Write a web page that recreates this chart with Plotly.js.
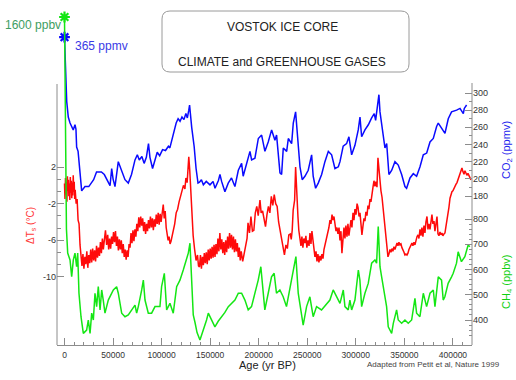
<!DOCTYPE html>
<html>
<head>
<meta charset="utf-8">
<script src="https://cdn.plot.ly/plotly-3.0.1.min.js"></script>
<style>
  html, body { margin: 0; padding: 0; background: #fff; }
  #chart { width: 516px; height: 380px; }
</style>
</head>
<body>
<div id="chart"></div>
<script>
// Vostok ice core records: age (yr BP) paired with each measured quantity.
const co2Record = [
  [0,365],[800,330],[2300,290],[3900,272],[5700,265],[9000,257],[10800,263],[11800,258],[12500,237],[14000,232],
  [16000,202],[17700,186],[21100,191],[25000,191],[30000,199],[33000,208],[38000,208],[41000,205],[46900,192],[48600,212],
  [50000,200],[52000,191],[55400,220],[58000,212],[62300,199],[65700,195],[69000,205],[72600,222],[75000,228],[77000,222],
  [79700,226],[82000,218],[84300,225],[86500,241],[88000,225],[90700,212],[93500,225],[95500,231],[98000,227],[101000,234],
  [104000,233],[107000,238],[108500,236],[112000,253],[115000,265],[117000,270],[119000,267],[121000,272],[123000,269],[125000,276],
  [126500,271],[128000,280],[128800,286],[131000,260],[133500,238],[135500,212],[137500,195],[139000,196],[141000,199],[143000,193],
  [146000,197],[149800,193],[153000,197],[155000,189],[158500,198],[160100,205],[161800,197],[165200,185],[168600,195],[172000,201],
  [175500,191],[179000,210],[182400,218],[184000,203],[187500,218],[191000,232],[192700,222],[196100,224],[199600,247],[203000,251],
  [206400,232],[209800,243],[213300,257],[216700,245],[218400,251],[221900,207],[223600,205],[225300,236],[228800,232],[230500,247],
  [233900,241],[235600,265],[238000,278],[240700,234],[242500,214],[244800,199],[247600,203],[251000,210],[254500,228],[256100,203],
  [258600,189],[261300,195],[264800,205],[268200,220],[271700,232],[275100,228],[278500,212],[282000,214],[283700,220],[287000,238],
  [290500,241],[292900,249],[295700,228],[299100,239],[302500,257],[304300,272],[306000,249],[309400,257],[312900,263],[316300,271],
  [319000,276],[320400,268],[322500,286],[323800,298],[324900,278],[328300,247],[330000,236],[331800,241],[334100,205],[337000,210],
  [340300,220],[343700,216],[347200,205],[350600,191],[352300,189],[355800,201],[359200,206],[362600,203],[366100,214],[369500,228],
  [373000,230],[376400,243],[379800,247],[383200,261],[384900,265],[388300,259],[391800,253],[395200,270],[398600,278],[403800,280],
  [407300,282],[410700,276],[411700,282],[414100,286]
];

const tempRecord = [
  [0,0.2],[500,-1.5],[1000,0.8],[1500,-1.0],[2000,0.4],[2500,-1.8],[3000,1.0],[3500,-0.6],[4000,0.6],[4500,-1.2],
  [5000,0.2],[5500,-1.6],[6000,0.9],[6500,-0.8],[7000,0.5],[7500,-1.4],[8000,0.3],[8500,-1.1],[9000,1.1],[9500,-0.7],
  [10000,0.4],[10500,-1.5],[11000,-0.5],[12000,-2.0],[13000,-1.5],[14000,-3.8],[15000,-4.2],[16000,-6.5],[17000,-7.8],
  [18000,-8.8],[19000,-7.5],[20000,-9.1],[21000,-7.8],[22000,-8.6],[23000,-7.2],[24000,-9.0],[25000,-7.6],[26000,-8.5],[27000,-7.0],
  [28000,-8.4],[29000,-6.9],[30000,-8.2],[31000,-7.1],[32000,-8.3],[33000,-6.6],[34000,-7.9],[35000,-6.8],[36000,-7.7],[37000,-6.2],
  [38000,-7.4],[39000,-5.8],[40000,-7.0],[41000,-6.0],[42200,-4.9],[43400,-6.5],[44500,-5.4],[45500,-7.0],[46500,-5.8],[47500,-6.9],
  [48500,-5.6],[49500,-6.4],[50500,-5.1],[51500,-6.2],[52500,-5.0],[53500,-6.6],[54500,-5.6],[55500,-7.1],[56500,-5.9],[57500,-7.0],
  [58500,-6.0],[59500,-7.4],[60500,-6.4],[61500,-7.8],[62500,-7.0],[63500,-8.1],[64500,-7.1],[65500,-7.8],[66500,-6.4],[67500,-6.8],
  [68500,-5.2],[69500,-6.3],[70500,-4.9],[71500,-6.1],[72500,-4.8],[73500,-5.6],[74500,-4.2],[75500,-5.0],[76500,-3.5],[77500,-4.6],
  [78500,-3.4],[79500,-4.4],[80500,-3.6],[81500,-5.0],[82500,-4.0],[83500,-5.3],[84500,-4.2],[85500,-5.0],[86500,-3.8],[87500,-4.7],
  [88500,-3.4],[89500,-4.6],[90500,-3.6],[91500,-4.9],[92500,-3.7],[93500,-4.5],[94500,-3.2],[95500,-4.2],[96500,-3.0],[97500,-4.3],
  [98500,-3.1],[99500,-4.0],[100500,-2.8],[101700,-2.1],[102700,-3.6],[103700,-2.8],[104700,-4.6],[105700,-5.4],[106700,-6.0],[107700,-5.6],
  [108700,-6.4],[109700,-6.1],[110700,-5.6],[112000,-4.9],[113500,-4.2],[115000,-3.0],[116500,-2.6],[118000,-1.8],[119500,-1.2],[121000,-0.5],
  [122500,0.0],[124000,-0.4],[125000,0.8],[126300,0.3],[128000,3.1],[129000,1.6],[130000,-0.8],[131200,-3.2],[132500,-5.5],[134000,-7.0],
  [135500,-8.2],[137000,-7.6],[138000,-8.8],[139000,-8.9],[140000,-7.6],[141000,-9.1],[142000,-7.8],[143000,-8.7],[144000,-7.4],[145000,-8.5],
  [146000,-7.3],[147000,-8.6],[148000,-7.0],[149000,-8.2],[150000,-6.9],[151000,-8.0],[152000,-6.7],[153000,-7.9],[154000,-6.5],[155000,-7.8],
  [156000,-6.4],[157000,-7.5],[158000,-5.8],[159000,-7.2],[160000,-5.2],[161000,-7.0],[162000,-5.9],[163000,-7.4],[164000,-6.2],[165000,-7.6],
  [166000,-6.0],[167000,-7.3],[168000,-5.6],[169000,-6.9],[170000,-5.2],[171000,-6.8],[172000,-5.4],[173000,-7.0],[174000,-5.6],[175000,-7.3],
  [176000,-5.9],[177000,-7.2],[178000,-6.3],[179000,-7.8],[180000,-6.8],[181000,-8.2],[182000,-7.2],[183500,-8.3],[185000,-7.4],[186500,-6.6],
  [188000,-5.8],[189000,-4.1],[190500,-5.2],[192000,-3.4],[193500,-5.0],[195000,-4.9],[196500,-3.0],[198000,-2.3],[199500,-3.3],[201300,-1.6],
  [202500,-3.0],[204000,-2.8],[205500,-3.9],[207000,-4.5],[208500,-3.2],[210000,-2.3],[211500,-3.0],[213000,-1.2],[214500,-2.2],[216000,-1.0],
  [217500,-2.0],[219000,-2.3],[220500,-4.0],[222000,-4.9],[223500,-5.8],[225000,-6.7],[226500,-7.6],[228000,-6.5],[229500,-6.9],[231000,-5.4],
  [232500,-5.3],[233500,-5.9],[234500,-4.9],[235500,-2.7],[237000,-1.6],[238000,2.0],[239200,-1.4],[240400,-3.4],[241300,-4.9],[242500,-5.6],
  [243500,-6.6],[244500,-5.6],[245500,-6.8],[246500,-5.8],[247600,-6.3],[248600,-5.5],[249600,-6.8],[250700,-6.0],[251800,-6.6],[252800,-5.2],
  [253800,-6.4],[254800,-5.0],[255900,-6.2],[256900,-7.0],[257900,-7.8],[259000,-7.2],[260000,-8.3],[261000,-7.5],[262000,-8.4],[263100,-7.7],
  [264100,-8.2],[265100,-7.5],[266200,-8.0],[267200,-7.0],[268200,-6.5],[269300,-6.2],[270300,-5.8],[271300,-5.0],[272300,-4.6],[273400,-3.8],
  [274400,-4.2],[275500,-3.2],[276500,-3.8],[277500,-3.4],[278500,-4.4],[279600,-5.0],[280600,-4.6],[281600,-5.3],[282700,-4.6],[283700,-6.0],
  [284700,-5.0],[285700,-7.4],[286700,-6.0],[287800,-4.6],[288800,-5.8],[289800,-4.4],[290900,-5.6],[291900,-4.2],[292900,-5.5],[294000,-4.5],
  [295000,-3.8],[296000,-4.6],[297100,-3.0],[298100,-3.8],[299100,-2.6],[300200,-3.2],[301300,-2.0],[302300,-2.4],[303300,-3.4],[304300,-3.0],
  [305300,-4.6],[306300,-5.4],[307300,-4.5],[308400,-3.6],[309400,-3.9],[310400,-2.9],[311500,-3.3],[312500,-2.2],[313500,-2.6],[314600,-1.5],
  [315600,-1.8],[316600,-0.8],[317700,-0.2],[318700,0.5],[319700,-0.1],[320700,0.4],[321800,-0.2],[322800,3.0],[323800,1.6],[324900,0.0],
  [325900,-0.6],[327000,-1.3],[328000,-2.5],[329000,-3.4],[330000,-4.2],[331000,-5.5],[332100,-6.6],[333100,-7.8],[334100,-7.5],[335200,-7.0],
  [336200,-7.3],[337200,-6.9],[338200,-7.2],[339300,-6.7],[340300,-7.0],[341300,-6.5],[342400,-6.3],[343400,-6.6],[344400,-6.2],[345500,-6.5],
  [346500,-6.4],[347500,-6.8],[348500,-7.0],[349600,-7.3],[350600,-7.6],[351600,-7.5],[352700,-7.6],[353700,-7.4],[354700,-7.0],[355800,-6.7],
  [356800,-6.5],[357800,-6.3],[358800,-6.6],[359900,-6.2],[360900,-6.5],[361900,-6.0],[363000,-5.6],[364000,-5.4],[365000,-5.8],[366100,-4.8],
  [367100,-5.5],[368100,-4.6],[369100,-5.6],[370200,-4.4],[371200,-5.2],[372200,-4.0],[373300,-3.4],[374300,-4.8],[375300,-4.2],[376400,-4.8],
  [377400,-3.5],[378400,-3.2],[379400,-4.2],[380500,-3.9],[381500,-5.0],[382500,-4.0],[383600,-3.4],[384600,-5.3],[385600,-5.5],[386700,-5.1],
  [387700,-5.4],[388700,-5.2],[389700,-5.5],[390800,-5.3],[391800,-5.2],[392800,-4.5],[393900,-3.8],[394900,-3.4],[395900,-2.4],[397000,-1.4],
  [398000,-1.0],[399000,-0.7],[400000,-0.6],[401100,-0.3],[402100,-0.2],[403100,0.1],[404200,0.3],[405200,0.6],[406200,0.9],[407300,1.3],
  [408300,1.6],[409300,1.9],[410300,1.5],[411400,1.2],[412400,1.6],[413400,1.4],[414400,1.1],[415500,1.3],[416500,1.0],[417500,0.8],
  [418600,0.6]
];

const ch4Record = [
  [0,1600],[2000,760],[3300,665],[5700,638],[7400,572],[9100,638],[10800,665],[12500,611],[13600,665],[14900,506],
  [17000,413],[19400,347],[22800,360],[24500,400],[26300,347],[28000,427],[29700,400],[31400,506],[33100,453],[34800,532],
  [36600,440],[38300,519],[39900,479],[41700,427],[45100,479],[50300,519],[53700,532],[55400,506],[58900,427],[62300,413],
  [65700,420],[69200,440],[72600,459],[74300,427],[76000,453],[79500,519],[81200,558],[82900,479],[86300,427],[89700,427],
  [93200,453],[98300,453],[100000,532],[102800,585],[105200,440],[108600,466],[112000,427],[115500,532],[118900,558],[122300,598],
  [125800,638],[127500,665],[129200,704],[130900,572],[132600,420],[134400,390],[136500,350],[139500,321],[142900,360],[144500,373],
  [146300,400],[148100,427],[151500,400],[154900,373],[158300,395],[161800,413],[165200,430],[168700,453],[172100,465],[175500,479],
  [179000,506],[182400,506],[185800,479],[189200,440],[192600,453],[197800,532],[199500,558],[202200,611],[204600,492],[206300,440],
  [209800,506],[213200,571],[215900,585],[218300,506],[221800,519],[225200,492],[228600,453],[233800,558],[236600,611],[238300,651],
  [240700,506],[244100,427],[245800,380],[249300,453],[252700,492],[256100,413],[259600,453],[264700,440],[269900,466],[273300,479],
  [276700,519],[280200,492],[283700,466],[287100,519],[288800,453],[292200,440],[293900,479],[295700,440],[299100,479],[302600,598],
  [304200,558],[306000,453],[309400,506],[312800,545],[316300,625],[319700,638],[321400,625],[323100,770],[324900,611],[326600,571],
  [330000,492],[331700,453],[333400,373],[336900,347],[338600,387],[342000,440],[343700,400],[347200,387],[350600,400],[354000,387],
  [357500,400],[360900,486],[362600,427],[366000,413],[369500,506],[372900,453],[376400,506],[379800,519],[381500,453],[384900,571],
  [388300,558],[390000,479],[391700,492],[395100,545],[398600,571],[400300,585],[403700,625],[405400,670],[408800,631],[412300,651],
  [415700,697],[417400,690]
];

// Present-day reference levels marked with stars
const presentCO2 = 365;
const presentCH4 = 1600;

// Axis ticks
const ageTicks = [0, 50000, 100000, 150000, 200000, 250000, 300000, 350000, 400000];
const ageTickLabels = ['0', '50000', '100000', '150000', '200000', '250000', '300000', '350000', '400000'];
const tempTicks = [2, -2, -6, -10];
const tempTickLabels = ['2', '-2', '-6', '-10'];
const co2Ticks = [180, 200, 220, 240, 260, 280, 300];
const ch4Ticks = [400, 500, 600, 700, 800];

// Minor tick positions
const ageMinor = [];
for (let a = 10000; a <= 410000; a += 10000) if (a % 50000) ageMinor.push(a);
const tempMinor = [];
for (let t = 2; t >= -10; t -= 4) { tempMinor.push(t - 4 / 3, t - 8 / 3); }
tempMinor.splice(-2);
const co2Minor = [190, 210, 230, 250, 270, 290];
const ch4Minor = [];
for (let m = 340; m <= 800; m += 20) if (m % 100) ch4Minor.push(m);

const BLUE = '#0a0aff', RED = '#ff0a0a', GREEN = '#14e614';
const AXIS = '#8c8c8c', TXT = '#333333';

// Plot area in page pixels, used to place the decorations around it
const PL = 57, PR = 472, PT = 10, PB = 345;
const px = v => (v - PL) / (PR - PL);
const py = v => (PB - v) / (PB - PT);

const col = (rec, i) => rec.map(r => r[i]);

const starMarker = c => ({ symbol: 'asterisk-open', size: 9, color: c, line: { color: c, width: 2.2 } });

const traces = [
  { x: col(ch4Record, 0), y: col(ch4Record, 1), yaxis: 'y3', type: 'scatter', mode: 'lines',
    line: { color: GREEN, width: 1.5 }, hoverinfo: 'skip' },
  { x: col(tempRecord, 0), y: col(tempRecord, 1), yaxis: 'y', type: 'scatter', mode: 'lines',
    line: { color: RED, width: 1.5 }, hoverinfo: 'skip' },
  { x: col(co2Record, 0), y: col(co2Record, 1), yaxis: 'y2', type: 'scatter', mode: 'lines',
    line: { color: BLUE, width: 1.5 }, hoverinfo: 'skip' },
  { x: [0], y: [presentCH4], yaxis: 'y3', type: 'scatter', mode: 'markers', cliponaxis: false,
    marker: starMarker(GREEN), hoverinfo: 'skip' },
  { x: [0], y: [presentCO2], yaxis: 'y2', type: 'scatter', mode: 'markers', cliponaxis: false,
    marker: starMarker(BLUE), hoverinfo: 'skip' }
];

const yCommon = {
  showgrid: false, zeroline: false, showline: false, fixedrange: true,
  ticks: 'inside', ticklen: 7, tickwidth: 1, tickcolor: AXIS,
  tickfont: { size: 9, color: TXT }, tickmode: 'array'
};

// Rounded title box
const bx0 = px(162), bx1 = px(409), by0 = py(72), by1 = py(11);
const rx = 8 / (PR - PL), ry = 8 / (PB - PT);
const boxPath = `M ${bx0 + rx},${by1} L ${bx1 - rx},${by1} Q ${bx1},${by1} ${bx1},${by1 - ry} ` +
  `L ${bx1},${by0 + ry} Q ${bx1},${by0} ${bx1 - rx},${by0} L ${bx0 + rx},${by0} ` +
  `Q ${bx0},${by0} ${bx0},${by0 + ry} L ${bx0},${by1 - ry} Q ${bx0},${by1} ${bx0 + rx},${by1} Z`;

const note = (text, x, y, opts) => Object.assign({
  text, x: px(x), y: py(y), xref: 'paper', yref: 'paper', showarrow: false,
  xanchor: 'center', yanchor: 'middle', font: { size: 12, color: TXT }
}, opts || {});

const layout = {
  width: 516, height: 380,
  margin: { l: PL, r: 516 - PR, t: PT, b: 380 - PB, pad: 0 },
  paper_bgcolor: '#ffffff', plot_bgcolor: '#ffffff',
  showlegend: false,
  font: { family: 'Liberation Sans, Arial, sans-serif', color: TXT },
  xaxis: {
    range: [-7720, 419650], fixedrange: true,
    tickmode: 'array', tickvals: ageTicks, ticktext: ageTickLabels,
    ticks: 'inside', ticklen: 7, tickwidth: 1, tickcolor: AXIS, ticklabelstandoff: 2,
    tickfont: { size: 8.5, color: TXT },
    showline: true, linecolor: AXIS, linewidth: 1, showgrid: false, zeroline: false,
    minor: { tickmode: 'array', tickvals: ageMinor, ticks: 'inside', ticklen: 3.5, tickcolor: AXIS, showgrid: false }
  },
  yaxis: Object.assign({}, yCommon, {
    range: [-17.42, 19.13], tickvals: tempTicks, ticktext: tempTickLabels, side: 'left',
    minor: { tickmode: 'array', tickvals: tempMinor, ticks: 'inside', ticklen: 3.5, tickcolor: AXIS, showgrid: false }
  }),
  yaxis2: Object.assign({}, yCommon, {
    range: [6.4, 396.7], tickvals: co2Ticks, overlaying: 'y', side: 'right', anchor: 'x',
    minor: { tickmode: 'array', tickvals: co2Minor, ticks: 'inside', ticklen: 3.5, tickcolor: AXIS, showgrid: false }
  }),
  yaxis3: Object.assign({}, yCommon, {
    range: [301, 1627.7], tickvals: ch4Ticks, overlaying: 'y', side: 'right', anchor: 'x',
    minor: { tickmode: 'array', tickvals: ch4Minor, ticks: 'inside', ticklen: 3.5, tickcolor: AXIS, showgrid: false }
  }),
  shapes: [
    { type: 'line', xref: 'paper', yref: 'paper', x0: 0, x1: 0, y0: 0, y1: py(84), line: { color: AXIS, width: 1 } },
    { type: 'line', xref: 'paper', yref: 'paper', x0: 1, x1: 1, y0: 0, y1: py(83), line: { color: AXIS, width: 1 } },
    { type: 'path', xref: 'paper', yref: 'paper', path: boxPath, line: { color: '#9a9a9a', width: 1 } }
  ],
  annotations: [
    note('VOSTOK ICE CORE', 282, 27, { font: { size: 12, color: '#222' } }),
    note('CLIMATE and GREENHOUSE GASES', 282, 62, { font: { size: 12, color: '#222' } }),
    note('1600 ppbv', 63, 25, { xanchor: 'right', font: { size: 12, color: '#3e9e62' } }),
    note('365 ppmv', 73, 46, { xanchor: 'left', font: { size: 12, color: '#3a3ae6' } }),
    note('ΔT<sub>s</sub> (°C)', 31, 225, { textangle: -90, font: { size: 10, color: '#ff3a3a' } }),
    note('CO<sub>2</sub> (ppmv)', 507, 150, { textangle: -90, font: { size: 11, color: '#1e1eee' } }),
    note('CH<sub>4</sub> (ppbv)', 507, 282, { textangle: -90, font: { size: 11, color: '#10d010' } }),
    note('Age (yr BP)', 267, 365, { font: { size: 11, color: '#222' } }),
    note('Adapted from Petit et al, Nature 1999', 502, 364, { xanchor: 'right', font: { size: 8, color: '#444' } })
  ]
};

Plotly.newPlot('chart', traces, layout, { displayModeBar: false, staticPlot: true });
</script>
</body>
</html>
